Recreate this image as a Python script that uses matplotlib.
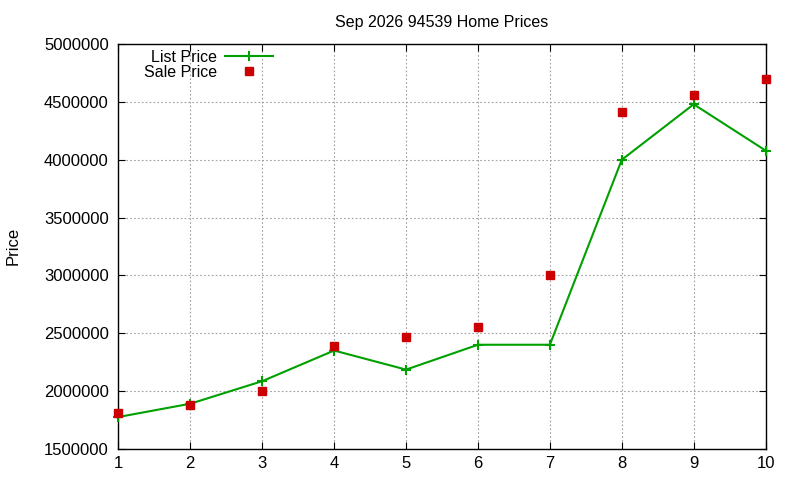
import matplotlib.pyplot as plt
from matplotlib.lines import Line2D

months = [1, 2, 3, 4, 5, 6, 7, 8, 9, 10]
list_price = [1775000, 1890000, 2085000, 2350000, 2185000, 2400000, 2400000, 4000000, 4480000, 4080000]
sale_price = [1810000, 1880000, 2000000, 2390000, 2470000, 2550000, 3000000, 4410000, 4560000, 4700000]

plt.rcParams['font.family'] = ['Liberation Sans', 'DejaVu Sans']

fig = plt.figure(figsize=(8, 4.8), dpi=100)
ax = fig.add_axes([0.148, 0.065, 0.809, 0.843])

ax.plot(months, list_price, color='#00a000', lw=1.5, marker='+', ms=7, mew=1.5, clip_on=False, zorder=3)
ax.plot(months, sale_price, ls='none', color='#cc0000', marker='s', ms=6, clip_on=False, zorder=3)

ax.set_xlim(1, 10)
ax.set_ylim(1500000, 5000000)
ax.set_xticks(months)
ax.set_yticks(range(1500000, 5000001, 500000))
ax.yaxis.set_major_formatter(plt.FuncFormatter(lambda v, p: f"{v:.0f}"))
ax.tick_params(direction='in', labelsize=12, length=5, top=True, right=True, pad=7)
ax.tick_params(axis='x', pad=5)
ax.grid(True, color='#a0a0a0', ls=(0, (1.5, 2)), lw=0.8)
for s in ax.spines.values():
    s.set_linewidth(1)

ax.set_title("Sep 2026 94539 Home Prices", fontsize=11.5, pad=12)
fig.text(13 / 800, 1 - 246 / 480, "Price", fontsize=12, rotation=90,
         ha='center', va='center')

handles = [Line2D([], [], color='#00a000', lw=1.5, marker='+', ms=7, mew=1.5),
           Line2D([], [], ls='none', color='#cc0000', marker='s', ms=6)]
leg = ax.legend(handles, ["List Price", "Sale Price"], loc='upper left',
                bbox_to_anchor=(0.025, 1.01), frameon=False, fontsize=11.5,
                markerfirst=False, handlelength=3, labelspacing=0.0,
                borderaxespad=0.2, handletextpad=0.5)

fig.savefig("out.png", dpi=100)
